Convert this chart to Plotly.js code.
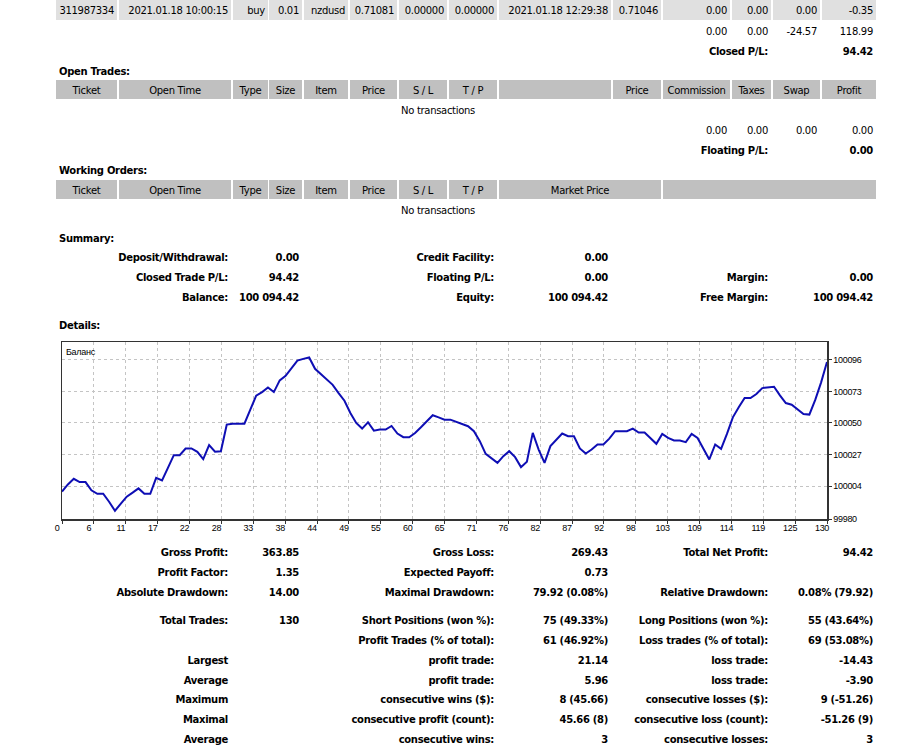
<!DOCTYPE html>
<html>
<head>
<meta charset="utf-8">
<script src="https://cdn.plot.ly/plotly-3.0.1.min.js"></script>
<style>
  html, body { margin: 0; padding: 0; background: #fff; width: 897px; height: 750px; overflow: hidden; }
  body { position: relative; font-family: "DejaVu Sans", Verdana, sans-serif; font-size: 10px; letter-spacing: -0.3px; color: #000; }
  .t { position: absolute; box-sizing: border-box; padding: 1px 3px 0 3px; white-space: nowrap; overflow: visible; }
  .b { font-weight: bold; }
  #chart { position: absolute; left: 0; top: 330px; width: 897px; height: 215px; }
</style>
</head>
<body>
<div id="chart"></div>
<script>
// Balance after each closed trade (trade 0 = opening balance)
const balance = [
  100000, 100005.2, 100009.3, 100006.9, 100006.9, 100000.9, 99998.4, 99998.4, 99992.6, 99986.0,
  99991.2, 99996.3, 99999.2, 100002.3, 99998.4, 99998.4, 100010.0, 100008.1, 100017.3, 100026.5,
  100026.5, 100031.4, 100031.4, 100029.0, 100023.6, 100033.8, 100029.0, 100029.4, 100048.8, 100049.5,
  100049.5, 100049.5, 100059.7, 100069.9, 100072.5, 100075.9, 100072.5, 100081.0, 100084.4, 100090.0,
  100095.5, 100096.7, 100097.7, 100089.5, 100085.6, 100082.0, 100077.8, 100071.8, 100066.2, 100057.3,
  100050.0, 100045.9, 100050.5, 100044.4, 100045.2, 100045.2, 100047.8, 100042.3, 100039.6, 100039.6,
  100042.7, 100046.9, 100051.2, 100055.6, 100054.1, 100052.4, 100052.4, 100050.7, 100049.3, 100047.6,
  100044.0, 100036.7, 100027.5, 100024.1, 100020.9, 100025.8, 100029.4, 100025.1, 100017.8, 100021.7,
  100042.8, 100030.6, 100020.9, 100033.1, 100037.9, 100042.3, 100040.3, 100040.3, 100031.4, 100027.7,
  100030.6, 100034.3, 100034.3, 100038.6, 100044.0, 100044.0, 100044.0, 100045.9, 100043.0, 100043.0,
  100038.6, 100034.8, 100042.0, 100039.1, 100037.2, 100037.2, 100036.0, 100042.0, 100039.1, 100031.4,
  100023.4, 100034.3, 100031.1, 100042.0, 100054.1, 100061.4, 100068.2, 100068.2, 100071.1, 100075.4,
  100075.9, 100076.4, 100070.1, 100064.5, 100063.3, 100059.7, 100056.5, 100056.1, 100066.8, 100079.6,
  100094.42
];
const tradeNo = balance.map((_, i) => i);

// Axis labels of the balance chart
const xTickLabels = ["0","6","11","17","22","28","33","38","44","49","55","60","65","71","76","82","87","92","98","103","109","114","119","125","130"];
const yTickLabels = ["99980","100004","100027","100050","100073","100096"];
const seriesName = "Баланс";

// Report tables
const lastTradeRow = ["311987334","2021.01.18 10:00:15","buy","0.01","nzdusd","0.71081","0.00000","0.00000","2021.01.18 12:29:38","0.71046","0.00","0.00","0.00","-0.35"];
const closedTotals = ["0.00","0.00","-24.57","118.99"];
const closedPL = ["Closed P/L:","94.42"];
const openHeader = ["Ticket","Open Time","Type","Size","Item","Price","S / L","T / P","","Price","Commission","Taxes","Swap","Profit"];
const openTotals = ["0.00","0.00","0.00","0.00"];
const floatingPL = ["Floating P/L:","0.00"];
const ordersHeader = ["Ticket","Open Time","Type","Size","Item","Price","S / L","T / P","Market Price",""];
const noTransactions = "No transactions";
const sectionTitles = ["Open Trades:","Working Orders:","Summary:","Details:"];

const summaryRows = [
  ["Deposit/Withdrawal:","0.00","Credit Facility:","0.00","",""],
  ["Closed Trade P/L:","94.42","Floating P/L:","0.00","Margin:","0.00"],
  ["Balance:","100 094.42","Equity:","100 094.42","Free Margin:","100 094.42"]
];
const statRows = [
  ["Gross Profit:","363.85","Gross Loss:","269.43","Total Net Profit:","94.42"],
  ["Profit Factor:","1.35","Expected Payoff:","0.73","",""],
  ["Absolute Drawdown:","14.00","Maximal Drawdown:","79.92 (0.08%)","Relative Drawdown:","0.08% (79.92)"],
  ["Total Trades:","130","Short Positions (won %):","75 (49.33%)","Long Positions (won %):","55 (43.64%)"],
  ["","","Profit Trades (% of total):","61 (46.92%)","Loss trades (% of total):","69 (53.08%)"],
  ["Largest","","profit trade:","21.14","loss trade:","-14.43"],
  ["Average","","profit trade:","5.96","loss trade:","-3.90"],
  ["Maximum","","consecutive wins ($):","8 (45.66)","consecutive losses ($):","9 (-51.26)"],
  ["Maximal","","consecutive profit (count):","45.66 (8)","consecutive loss (count):","-51.26 (9)"],
  ["Average","","consecutive wins:","3","consecutive losses:","3"]
];

// ---- page layout of the report table (column edges in px) ----
const COLS = [[56,117],[119,231],[233,268],[269,302],[304,348],[350,397],[399,447],[449,497],[499,611],[613,661],[663,730],[732,771],[773,820],[822,876]];
const HEAD_BG = "#C0C0C0", ROW_BG = "#E0E0E0";

function cell(c1, c2, y1, y2, text, opt) {
  opt = opt || {};
  const d = document.createElement("div");
  d.className = "t" + (opt.bold ? " b" : "");
  const x1 = COLS[c1][0], x2 = COLS[c2][1];
  d.style.left = x1 + "px";
  d.style.width = (x2 - x1) + "px";
  d.style.top = y1 + "px";
  d.style.height = (y2 - y1) + "px";
  d.style.lineHeight = (y2 - y1) + "px";
  d.style.textAlign = opt.align || "right";
  if (opt.bg) d.style.background = opt.bg;
  d.textContent = text;
  document.body.appendChild(d);
}
function rowAt(yc) { return [yc - 10, yc + 10]; }

// last closed trade row
lastTradeRow.forEach((t, i) => cell(i, i, -1, 20, t, {bg: ROW_BG}));
// closed totals
closedTotals.forEach((t, i) => cell(10 + i, 10 + i, ...rowAt(31), t));
cell(10, 11, ...rowAt(51), closedPL[0], {bold: true});
cell(13, 13, ...rowAt(51), closedPL[1], {bold: true});

// Open trades
cell(0, 4, ...rowAt(71), sectionTitles[0], {bold: true, align: "left"});
openHeader.forEach((t, i) => cell(i, i, 80, 99, t, {bg: HEAD_BG, align: "center"}));
cell(0, 12, ...rowAt(110), noTransactions, {align: "center"});
openTotals.forEach((t, i) => cell(10 + i, 10 + i, ...rowAt(130), t));
cell(10, 11, ...rowAt(150), floatingPL[0], {bold: true});
cell(13, 13, ...rowAt(150), floatingPL[1], {bold: true});

// Working orders
cell(0, 4, ...rowAt(170), sectionTitles[1], {bold: true, align: "left"});
ordersHeader.slice(0, 8).forEach((t, i) => cell(i, i, 180, 199, t, {bg: HEAD_BG, align: "center"}));
cell(8, 9, 180, 199, ordersHeader[8], {bg: HEAD_BG, align: "center"});
cell(10, 13, 180, 199, ordersHeader[9], {bg: HEAD_BG, align: "center"});
cell(0, 12, ...rowAt(210), noTransactions, {align: "center"});

// Summary
cell(0, 4, ...rowAt(238), sectionTitles[2], {bold: true, align: "left"});
const summaryY = [257, 277, 297];
// label / value column spans for the three label-value pairs
const pairSpans = [[[0,1],[2,3]], [[4,7],[8,8]], [[9,11],[12,13]]];
function statLine(vals, yc) {
  pairSpans.forEach((p, k) => {
    if (vals[2*k]) cell(p[0][0], p[0][1], ...rowAt(yc), vals[2*k], {bold: true});
    if (vals[2*k+1]) cell(p[1][0], p[1][1], ...rowAt(yc), vals[2*k+1], {bold: true});
  });
}
summaryRows.forEach((r, i) => statLine(r, summaryY[i]));

cell(0, 4, ...rowAt(325), sectionTitles[3], {bold: true, align: "left"});

const statY = [552, 572, 592, 620, 640, 660, 680, 699, 719, 739];
statRows.forEach((r, i) => statLine(r, statY[i]));

// ---- balance chart ----
const xStep = 130 / (xTickLabels.length - 1);
const trace = {
  x: tradeNo,
  y: balance,
  type: "scatter",
  mode: "lines",
  name: seriesName,
  line: {color: "#0e0eb4", width: 2},
  hoverinfo: "skip"
};
const axisFont = {family: "Liberation Sans, Arial, sans-serif", size: 9, color: "#000"};
const layout = {
  margin: {l: 62, r: 70, t: 12, b: 26},
  paper_bgcolor: "#fff",
  plot_bgcolor: "#fff",
  showlegend: false,
  xaxis: {
    range: [0, 130],
    tickmode: "array",
    tickvals: xTickLabels.map((_, k) => k * xStep),
    ticktext: xTickLabels,
    showgrid: true, gridcolor: "#c4c4c4", gridwidth: 1, griddash: "3px,3px",
    zeroline: false,
    showline: true, mirror: true, linecolor: "#333", linewidth: 1.5,
    ticks: "outside", ticklen: 3, tickcolor: "#333", tickwidth: 1,
    ticklabelshift: -5,
    ticklabelstandoff: -3,
    tickfont: axisFont
  },
  yaxis: {
    side: "right",
    range: [99980, 100109],
    tickmode: "array",
    tickvals: yTickLabels.map(Number),
    ticktext: yTickLabels,
    showgrid: true, gridcolor: "#c4c4c4", gridwidth: 1, griddash: "3px,3px",
    zeroline: false,
    showline: true, mirror: true, linecolor: "#333", linewidth: 1.5,
    ticks: "outside", ticklen: 3, tickcolor: "#333", tickwidth: 1,
    tickfont: axisFont
  },
  annotations: [{
    xref: "paper", yref: "paper", x: 0, y: 1,
    xanchor: "left", yanchor: "top", xshift: 2, yshift: -3,
    text: seriesName, showarrow: false,
    font: {family: "Liberation Sans, Arial, sans-serif", size: 9, color: "#000"}
  }]
};
Plotly.newPlot("chart", [trace], layout, {staticPlot: true, displayModeBar: false});
</script>
</body>
</html>
